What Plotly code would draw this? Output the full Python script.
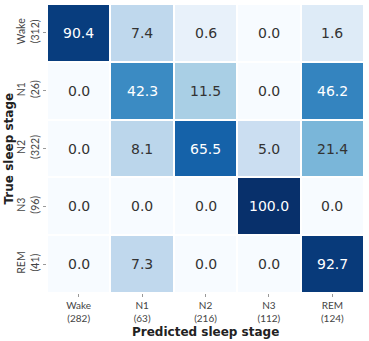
import numpy as np
import plotly.graph_objects as go

stages = ["Wake", "N1", "N2", "N3", "REM"]
true_counts = [312, 26, 322, 96, 41]
pred_counts = [282, 63, 216, 112, 124]
values = [
    [90.4, 7.4, 0.6, 0.0, 1.6],
    [0.0, 42.3, 11.5, 0.0, 46.2],
    [0.0, 8.1, 65.5, 5.0, 21.4],
    [0.0, 0.0, 0.0, 100.0, 0.0],
    [0.0, 7.3, 0.0, 0.0, 92.7],
]

xlabels = [f"{s}<br>({c})" for s, c in zip(stages, pred_counts)]
ylabels = [f"{s}<br>({c})" for s, c in zip(stages, true_counts)]

blues = ["#f7fbff", "#deebf7", "#c6dbef", "#9ecae1", "#6baed6",
         "#4292c6", "#2171b5", "#08519c", "#08306b"]
colorscale = [[i / 8, c] for i, c in enumerate(blues)]

# colour mapped with a square-root (power 0.5) normalisation
z = np.sqrt(np.array(values))

fig = go.Figure(go.Heatmap(
    z=z, x=xlabels, y=ylabels,
    colorscale=colorscale, zmin=0, zmax=10,
    xgap=2, ygap=2, showscale=False, hoverinfo="skip",
))

for i, row in enumerate(values):
    for j, v in enumerate(row):
        fig.add_annotation(
            x=xlabels[j], y=ylabels[i], text=f"{v:.1f}", showarrow=False,
            font=dict(family="DejaVu Sans", size=14,
                      color="white" if v > 30 else "#333333"),
        )

fig.add_annotation(
    text="<b>Predicted sleep stage</b>", xref="paper", yref="paper",
    x=0.5, y=0, yanchor="middle", yshift=-39, showarrow=False,
    font=dict(family="DejaVu Sans", size=12, color="#222222"),
)
fig.add_annotation(
    text="<b>True sleep stage</b>", xref="paper", yref="paper",
    x=0, y=0.5, xanchor="center", xshift=-39, textangle=-90, showarrow=False,
    font=dict(family="DejaVu Sans", size=12, color="#222222"),
)

fig.update_layout(
    width=369, height=341,
    margin=dict(l=47, r=5, t=4, b=48, autoexpand=False),
    plot_bgcolor="white", paper_bgcolor="white",
    font=dict(family="Lato", size=10, color="#444444"),
)
fig.update_xaxes(
    showgrid=False, zeroline=False, automargin=False,
    ticks="outside", ticklen=3, tickcolor="#999999",
    tickfont=dict(family="Lato", size=10, color="#444444"),
)
fig.update_yaxes(
    showgrid=False, zeroline=False, autorange="reversed", automargin=False,
    ticks="outside", ticklen=3, tickcolor="#999999", tickangle=-90,
    tickfont=dict(family="Lato", size=10.5, color="#444444"),
)

fig.write_html("out.html", config={"displayModeBar": False},
               post_script="document.body.style.margin='0';")
